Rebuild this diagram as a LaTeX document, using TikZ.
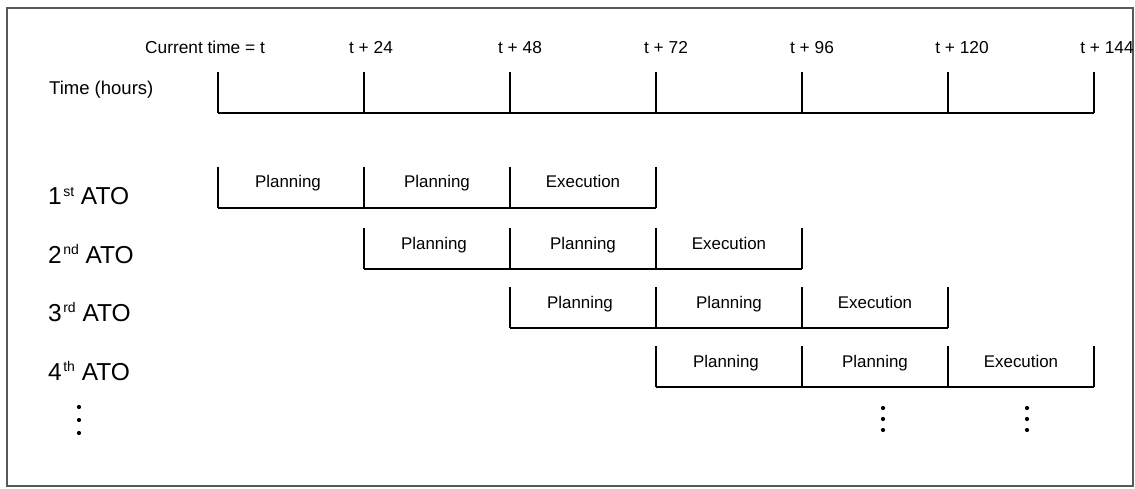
\documentclass[tikz,border=0pt]{standalone}
\usepackage{fontspec}
\setmainfont{Liberation Sans}
\begin{document}
\begin{tikzpicture}[x=1pt,y=-1pt,
  hdr/.style={font=\fontsize{17.3}{20}\selectfont, inner sep=0pt, anchor=base},
  boxtxt/.style={font=\fontsize{16.9}{20}\selectfont, inner sep=0pt, anchor=base},
  atolbl/.style={font=\fontsize{24.5}{28}\selectfont, inner sep=0pt, anchor=base west},
  ln/.style={draw=black, line width=1.3pt},
  frame/.style={draw=black!65, line width=1.4pt},
  vdot/.style={circle, fill=black, inner sep=0pt, minimum size=4.2pt}]
\newcommand{\sups}[1]{\hspace{0.06em}\raisebox{0.33em}{\fontsize{14}{14}\selectfont #1}}
\useasboundingbox (0,0) rectangle (1135,489);
\draw[frame] (7,8) rectangle (1133,486);

% header labels
\node[hdr] (h0) at (205,54) {Current time = t};
\node[hdr] (h1) at (371,54) {t + 24};
\node[hdr] (h2) at (520,54) {t + 48};
\node[hdr] (h3) at (666,54) {t + 72};
\node[hdr] (h4) at (812,54) {t + 96};
\node[hdr] (h5) at (962,54) {t + 120};
\node[hdr] (h6) at (1107,54) {t + 144};
\node[font=\fontsize{18.5}{20}\selectfont, inner sep=0pt, anchor=base west] (th) at (49,95) {Time (hours)};

% axis
\foreach \i/\x in {0/218,1/364,2/510,3/656,4/802,5/948,6/1094}{
  \coordinate (a\i) at (\x,72);
  \coordinate (b\i) at (\x,113);
}
\foreach \i in {0,...,6}{ \draw[ln] (a\i) -- (b\i); }
\draw[ln] (b0) -- (b6);

% rows
\foreach \r/\top/\lab/\sp/\base in {1/167/1/st/205, 2/228/2/nd/263, 3/287/3/rd/321, 4/346/4/th/380}{
  \node[atolbl] (l\r) at (48,\base) {\lab\sups{\sp} ATO};
  \pgfmathtruncatemacro{\s}{\r-1}
  \pgfmathtruncatemacro{\e}{\r+2}
  \pgfmathsetmacro{\bot}{\top+41}
  \foreach \j in {\s,...,\e}{
    \pgfmathsetmacro{\xx}{218+146*\j}
    \coordinate (t\r-\j) at (\xx,\top);
    \coordinate (u\r-\j) at (\xx,\bot);
    \draw[ln] (t\r-\j) -- (u\r-\j);
  }
  \draw[ln] (u\r-\s) -- (u\r-\e);
  \pgfmathsetmacro{\ya}{\top+21}
  \pgfmathsetmacro{\xa}{218+146*\s+70}
  \pgfmathsetmacro{\xb}{218+146*\s+219}
  \pgfmathsetmacro{\xc}{218+146*\s+365}
  \node[boxtxt] (p\r a) at (\xa,\ya) {Planning};
  \node[boxtxt] (p\r b) at (\xb,\ya) {Planning};
  \node[boxtxt] (p\r c) at (\xc,\ya) {Execution};
}

% continuation dots
\foreach \k/\y in {1/407,2/420,3/433}{ \node[vdot] (dl\k) at (79,\y) {}; }
\foreach \k/\y in {1/408,2/419,3/430}{
  \node[vdot] (dm\k) at (883,\y) {};
  \node[vdot] (dr\k) at (1027,\y) {};
}
\end{tikzpicture}
\end{document}
